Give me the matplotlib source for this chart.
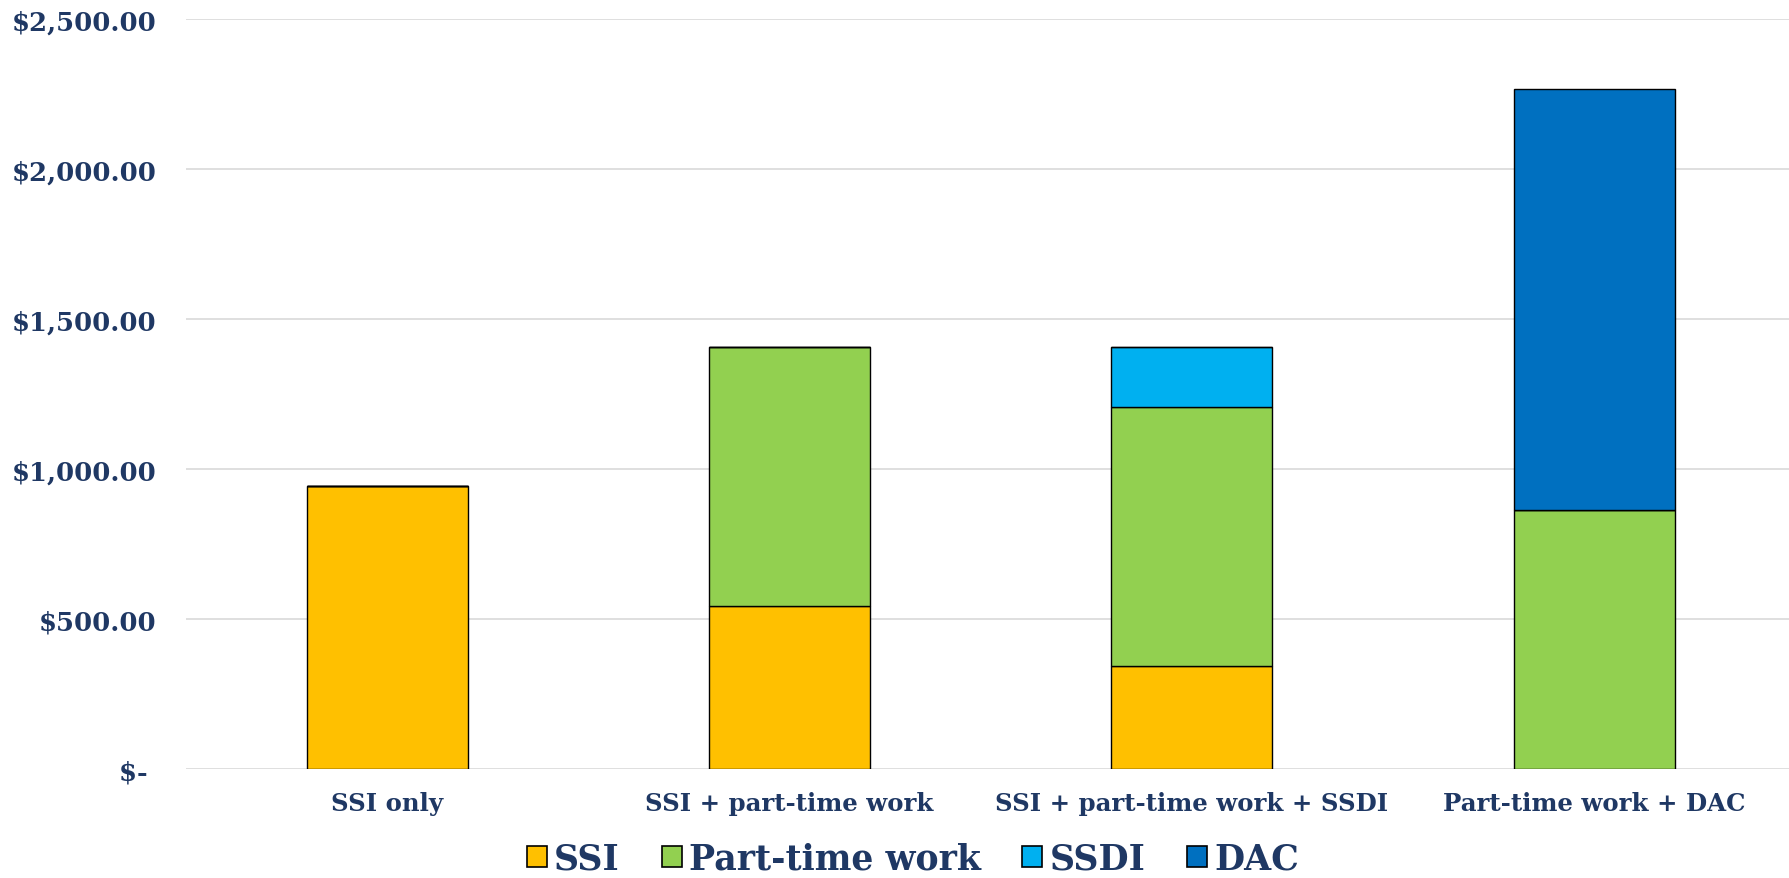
import matplotlib
matplotlib.use("Agg")
import matplotlib.pyplot as plt
from matplotlib.patches import Patch
from matplotlib.ticker import FuncFormatter

# data
categories = ["SSI only", "SSI + part-time work", "SSI + part-time work + SSDI", "Part-time work + DAC"]
ssi = [943, 543, 343, 0]
part_time = [0, 863, 863, 863]
ssdi = [0, 0, 200, 0]
dac = [0, 0, 0, 1403]
series_names = ["SSI", "Part-time work", "SSDI", "DAC"]
colors = ["#FFC000", "#92D050", "#00B0F0", "#0070C0"]
y_ticks = [0, 500, 1000, 1500, 2000, 2500]

navy = "#1F3864"
serif = "DejaVu Serif"

fig = plt.figure(figsize=(17.9, 8.79), dpi=100)
ax = fig.add_axes([0.1039, 0.124, 0.899, 0.853])

x = range(len(categories))
bottom = [0] * len(categories)
for vals, name, col in zip([ssi, part_time, ssdi, dac], series_names, colors):
    ax.bar(x, vals, bottom=bottom, width=0.40, color=col, edgecolor="black",
           linewidth=1.0, zorder=3, label=name)
    bottom = [b + v for b, v in zip(bottom, vals)]

ax.set_xlim(-0.5, len(categories) - 0.5)
ax.set_ylim(0, 2500)
ax.set_yticks(y_ticks)


def money(v, pos):
    # accounting style: zero shows as a dash
    if v == 0:
        return "$- "
    return "${:,.2f}".format(v)


ax.yaxis.set_major_formatter(FuncFormatter(money))
ax.grid(axis="y", color="#D9D9D9", linewidth=1.2, zorder=0)
ax.set_axisbelow(True)
for s in ax.spines.values():
    s.set_visible(False)
ax.tick_params(axis="both", length=0)
ax.tick_params(axis="y", pad=21)
ax.tick_params(axis="x", pad=15.5)

for lab in ax.get_yticklabels():
    lab.set_fontfamily(serif)
    lab.set_fontweight("bold")
    lab.set_fontsize(18.6)
    lab.set_color(navy)

ax.set_xticks(list(x))
ax.set_xticklabels(categories)
for lab in ax.get_xticklabels():
    lab.set_fontfamily(serif)
    lab.set_fontweight("bold")
    lab.set_fontsize(17.6)
    lab.set_color(navy)

handles = [Patch(facecolor=c, edgecolor="black", linewidth=1.2) for c in colors]
fig.legend(handles, series_names, loc="center", bbox_to_anchor=(0.51, 0.022),
           ncol=4, frameon=False, handlelength=0.58, handleheight=0.58,
           handletextpad=0.2, columnspacing=1.2,
           prop={"family": serif, "weight": "bold", "size": 25},
           labelcolor=navy)

fig.savefig("out.png", dpi=100, facecolor="white")
